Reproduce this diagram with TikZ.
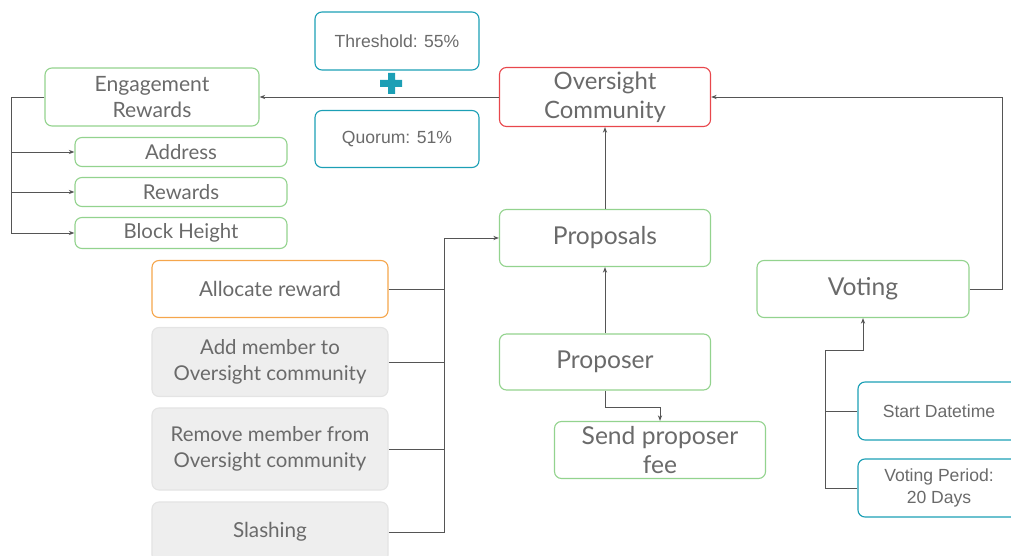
\documentclass[tikz,border=0pt]{standalone}
\usepackage{fontspec}
\setmainfont{Lato}
\newfontfamily\arialfont{Liberation Sans}
\usetikzlibrary{arrows.meta}
\definecolor{boxgreen}{HTML}{93D38E}
\definecolor{boxred}{HTML}{E8474C}
\definecolor{boxorange}{HTML}{F5A64C}
\definecolor{boxteal}{HTML}{1C9FB5}
\definecolor{boxgray}{HTML}{EEEEEE}
\definecolor{graytext}{HTML}{6A6A6A}
\definecolor{wire}{HTML}{555555}

\begin{document}
\begin{tikzpicture}[
    x=0.025cm, y=-0.025cm,
    box/.style={draw, rounded corners=5pt, line width=0.8pt, align=center,
      inner sep=0pt, text=graytext},
    greenbox/.style={box, draw=boxgreen},
    tealbox/.style={box, draw=boxteal, font=\arialfont\fontsize{12.5}{15.5}\selectfont},
    graybox/.style={box, draw=boxgray!70!black!30, fill=boxgray},
    link/.style={draw=wire, line width=0.6pt},
    arr/.style={link, -{Stealth[length=4pt,width=3pt]}}
  ]
  \useasboundingbox (0,0) rectangle (1011,556);

  % top row
  \node[greenbox, minimum width=5.35cm, minimum height=1.45cm,
    font=\fontsize{15}{18}\selectfont] (eng) at (152,97) {Engagement\\Rewards};
  \node[greenbox, minimum width=5.3cm, minimum height=0.725cm,
    font=\fontsize{14.5}{16}\selectfont] (addr) at (181,152) {Address};
  \node[greenbox, minimum width=5.3cm, minimum height=0.725cm,
    font=\fontsize{14.5}{16}\selectfont] (rew) at (181,192) {Rewards};
  \node[greenbox, minimum width=5.3cm, minimum height=0.775cm,
    font=\fontsize{14.5}{16}\selectfont] (blk) at (181,233) {Block Height};
  \node[tealbox, minimum width=4.1cm, minimum height=1.45cm] (thr) at (397,41) {Threshold: 55\%};
  \node[tealbox, minimum width=4.1cm, minimum height=1.425cm] (quo) at (397,139) {Quorum: 51\%};
  \fill[boxteal] (380,80) rectangle (402,87) (388,73) rectangle (395,94);
  \node[box, draw=boxred, minimum width=5.275cm, minimum height=1.475cm,
    font=\fontsize{17}{20.5}\selectfont] (over) at (605,97) {Oversight\\Community};

  % middle column
  \node[greenbox, minimum width=5.275cm, minimum height=1.425cm,
    font=\fontsize{17.5}{20}\selectfont] (prop) at (605,238) {Proposals};
  \node[greenbox, minimum width=5.275cm, minimum height=1.4cm,
    font=\fontsize{17.5}{20}\selectfont] (proser) at (605,362) {Proposer};
  \node[greenbox, minimum width=5.275cm, minimum height=1.425cm,
    font=\fontsize{17.5}{20.5}\selectfont] (fee) at (660,450) {Send proposer\\fee};

  % actions
  \node[box, draw=boxorange, minimum width=5.9cm, minimum height=1.425cm,
    font=\fontsize{14.7}{18.5}\selectfont] (alloc) at (270,289) {Allocate reward};
  \node[graybox, minimum width=5.9cm, minimum height=1.725cm,
    font=\fontsize{14.5}{18.5}\selectfont] (add) at (270,362) {Add member to\\Oversight community};
  \node[graybox, minimum width=5.9cm, minimum height=2.05cm,
    font=\fontsize{14.5}{18.5}\selectfont] (rem) at (270,449) {Remove member from\\Oversight community};
  \node[graybox, minimum width=5.9cm, minimum height=1.5cm,
    font=\fontsize{14.7}{18}\selectfont] (slash) at (270,532) {Slashing};

  % voting
  \node[greenbox, minimum width=5.3cm, minimum height=1.425cm,
    font=\fontsize{17.5}{20}\selectfont] (vot) at (863,289) {Voting};
  \node[tealbox, minimum width=4.05cm, minimum height=1.45cm] (start) at (939,411) {Start Datetime};
  \node[tealbox, minimum width=4.05cm, minimum height=1.45cm] (period) at (939,488) {Voting Period:\\20 Days};

  \coordinate (lb) at (11,233);
  \coordinate (mb) at (444,238);
  \coordinate (rb) at (1002,97);
  \coordinate (vb) at (825,350);

  \draw[arr] (over.west) -- (eng.east);
  \draw[link] (eng.west) -| (lb);
  \foreach \n in {addr,rew,blk}
    \draw[arr] (lb |- \n.west) -- (\n.west);
  \draw[arr] (prop.north) -- (over.south);
  \draw[arr] (proser.north) -- (prop.south);
  \draw[arr] (proser.south) -- ++(0,17) -| (fee.north);
  \draw[arr] (slash.east) -| (mb) -- (prop.west);
  \foreach \n in {alloc,add,rem}
    \draw[link] (\n.east) -- (mb |- \n.east);
  \draw[arr] (vot.east) -| (rb) -- (over.east);
  \draw[arr] (period.west) -| (vb) -| (vot.south);
  \draw[link] (start.west) -- (vb |- start.west);
\end{tikzpicture}
\end{document}
